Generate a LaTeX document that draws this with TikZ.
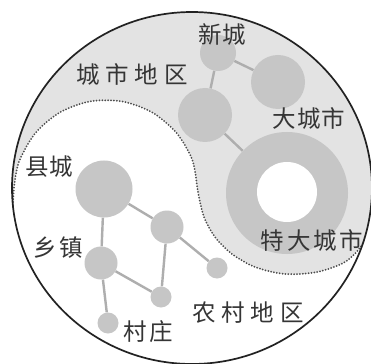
\documentclass[tikz,border=0pt]{standalone}
\usepackage{fontspec}
\newfontfamily\cjkwide[LetterSpace=25]{Noto Sans CJK SC}
\newfontfamily\cjkmid[LetterSpace=12]{Noto Sans CJK SC}
\newfontfamily\cjktight[LetterSpace=4]{Noto Sans CJK SC}
\definecolor{urban}{HTML}{E3E3E3}
\definecolor{nodegray}{HTML}{C6C6C6}
\definecolor{linegray}{HTML}{AEAEAE}
\definecolor{textgray}{HTML}{353535}
\definecolor{rimgray}{HTML}{222222}
\pgfdeclarelayer{bg}
\pgfdeclarelayer{lines}
\pgfsetlayers{bg,lines,main}
\tikzset{
  town/.style={circle, fill=nodegray, inner sep=0pt, draw=none},
  hole/.style={circle, fill=white, inner sep=0pt, draw=none},
  link/.style={draw=linegray, line width=2.4pt},
  lblw/.style={font={\fontsize{23.5}{23.5}\selectfont\cjkwide}, text=textgray, inner sep=0pt},
  lblm/.style={font={\fontsize{23.5}{23.5}\selectfont\cjkmid}, text=textgray, inner sep=0pt},
  lblt/.style={font={\fontsize{23.5}{23.5}\selectfont\cjktight}, text=textgray, inner sep=0pt},
  border/.style={draw=black!70, line width=2pt, dash pattern=on 0pt off 2.9pt, line cap=round}
}
\begin{document}
\begin{tikzpicture}[x=1pt,y=-1pt]
\useasboundingbox (0,0) rectangle (371,363);
\begin{pgfonlayer}{bg}
  \fill[white] (0,0) rectangle (371,363);
  \fill[urban] (192,188) ellipse [x radius=180pt, y radius=176pt];
  \begin{scope}
    \clip (192,188) ellipse [x radius=180pt, y radius=176pt];
    \fill[white] plot[smooth] coordinates {(13,205) (14.4,184) (19.5,160.5) (35.5,132.9) (60,112.3) (90,101.4) (122,101.4) (152,112.3) (176.5,132.9) (192.5,160.5) (198,192) (204,217) (215,237) (232,254) (255,267) (285,274) (317,272) (345,262) (362,245) (372,222)} -- (400,400) -- (-10,400) -- cycle;
    \draw[border] plot[smooth] coordinates {(13,205) (14.4,184) (19.5,160.5) (35.5,132.9) (60,112.3) (90,101.4) (122,101.4) (152,112.3) (176.5,132.9) (192.5,160.5) (198,192) (204,217) (215,237) (232,254) (255,267) (285,274) (317,272) (345,262) (362,245) (372,222)};
  \end{scope}
  \draw[rimgray, line width=1.7pt] (192,188) ellipse [x radius=180pt, y radius=176pt];
\end{pgfonlayer}

% urban nodes
\node[town, minimum size=36pt] (xc) at (218,53) {};
\node[town, minimum size=54pt] (dc) at (278,82) {};
\node[town, minimum size=54pt] (mc) at (205,115) {};
\node[town, minimum size=122pt] (tc) at (287,193) {};
\node[hole, minimum size=60pt] (tch) at (287,192) {};
% rural nodes
\node[town, minimum size=57pt] (xian) at (104,189) {};
\node[town, minimum size=33pt] (rm) at (167,227) {};
\node[town, minimum size=33pt] (xz) at (101,263) {};
\node[town, minimum size=21pt] (sr) at (217,268) {};
\node[town, minimum size=21pt] (sm) at (161,297) {};
\node[town, minimum size=21pt] (cz) at (108,323) {};

\begin{pgfonlayer}{lines}
  \draw[link] (xc) -- (dc);
  \draw[link] (xc) -- (mc);
  \draw[link] (mc) -- (tc);
  \draw[link] (xian) -- (rm);
  \draw[link] (xian) -- (xz);
  \draw[link] (rm) -- (sr);
  \draw[link] (rm) -- (sm);
  \draw[link] (xz) -- (sm);
  \draw[link] (xz) -- (cz);
\end{pgfonlayer}

% labels
\node[lblw] (lurban) at (132,75) {城市地区};
\node[lblt] (lxc) at (222,35) {新城};
\node[lblt] (ldc) at (309,119) {大城市};
\node[lblm] (ltc) at (312,241) {特大城市};
\node[lblt] (lxian) at (49,167) {县城};
\node[lblm] (lxz) at (58,248) {乡镇};
\node[lblm] (lcz) at (148,332) {村庄};
\node[lblw] (lrural) at (248,313) {农村地区};
\end{tikzpicture}
\end{document}
